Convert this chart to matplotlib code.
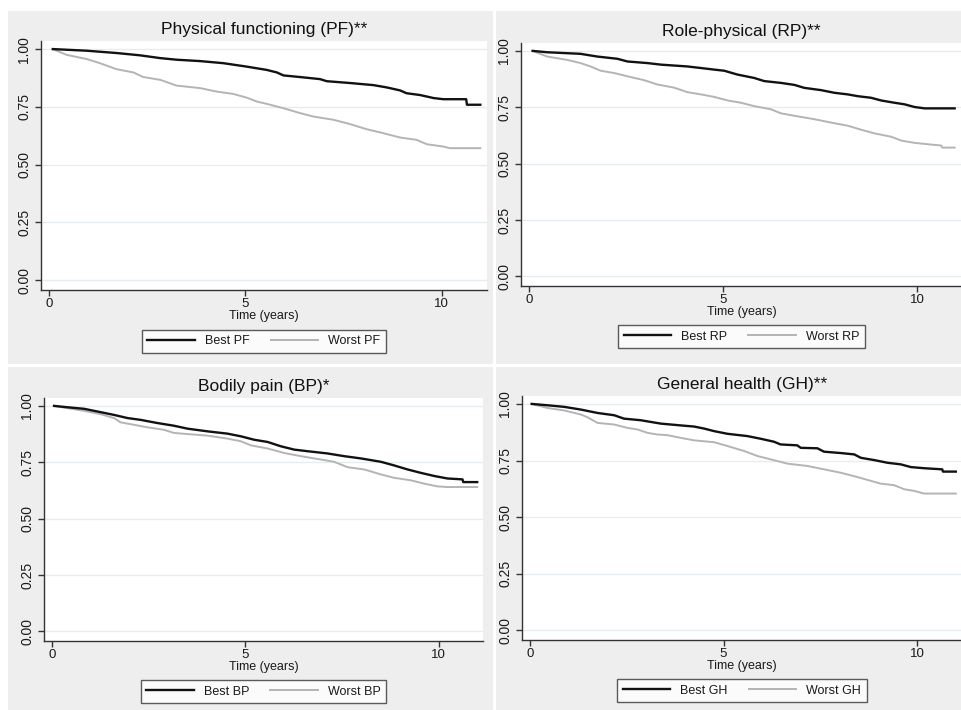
import matplotlib.pyplot as plt
from matplotlib.patches import Rectangle

plt.rcParams['font.family'] = ['Liberation Sans', 'DejaVu Sans']

# Kaplan-Meier survival by SF-36 domain (best vs worst score group)
titles = ['Physical functioning (PF)**', 'Role-physical (RP)**',
          'Bodily pain (BP)*', 'General health (GH)**']
codes = ['PF', 'RP', 'BP', 'GH']

pf_best_t = [0.1, 0.96, 1.72, 2.32, 2.83, 3.25, 3.85, 4.44, 5.0, 5.54, 5.8, 5.97,
             6.39, 6.9, 7.07, 7.67, 8.26, 8.6, 8.94, 9.1, 9.45, 9.79, 10.04, 10.62, 10.64, 10.98]
pf_best_s = [1.0, 0.993, 0.983, 0.973, 0.961, 0.954, 0.948, 0.939, 0.925, 0.910, 0.899, 0.886,
             0.879, 0.870, 0.861, 0.853, 0.844, 0.834, 0.821, 0.809, 0.801, 0.788, 0.783, 0.783,
             0.759, 0.759]
pf_worst_t = [0.1, 0.45, 0.96, 1.3, 1.72, 2.15, 2.4, 2.83, 3.25, 3.85, 4.27, 4.69, 5.03,
              5.29, 5.54, 5.97, 6.39, 6.73, 7.24, 7.67, 8.09, 8.51, 8.94, 9.36, 9.62, 10.04,
              10.2, 10.98]
pf_worst_s = [1.0, 0.975, 0.957, 0.939, 0.913, 0.899, 0.879, 0.867, 0.842, 0.831, 0.816, 0.806,
              0.790, 0.773, 0.763, 0.744, 0.723, 0.708, 0.694, 0.675, 0.653, 0.636, 0.617, 0.607,
              0.588, 0.578, 0.571, 0.571]

rp_best_t = [0.1, 0.47, 1.33, 1.76, 2.28, 2.54, 3.05, 3.4, 4.08, 4.43, 4.77, 5.03, 5.37,
             5.8, 6.06, 6.49, 6.84, 7.09, 7.52, 7.87, 8.21, 8.47, 8.81, 9.07, 9.41, 9.67,
             9.93, 10.19, 10.96]
rp_best_s = [1.0, 0.994, 0.987, 0.975, 0.965, 0.953, 0.946, 0.939, 0.931, 0.924, 0.917, 0.912,
             0.895, 0.880, 0.866, 0.858, 0.849, 0.836, 0.826, 0.814, 0.807, 0.799, 0.792, 0.780,
             0.770, 0.763, 0.751, 0.745, 0.745]
rp_worst_t = [0.1, 0.47, 0.99, 1.33, 1.59, 1.85, 2.19, 2.62, 2.97, 3.31, 3.74, 4.08, 4.43,
              4.77, 5.12, 5.46, 5.8, 6.23, 6.49, 6.84, 7.35, 7.78, 8.21, 8.56, 8.9, 9.33,
              9.59, 9.93, 10.27, 10.62, 10.64, 10.96]
rp_worst_s = [1.0, 0.975, 0.960, 0.946, 0.931, 0.912, 0.902, 0.884, 0.870, 0.851, 0.837, 0.817,
              0.807, 0.796, 0.780, 0.770, 0.755, 0.741, 0.723, 0.712, 0.697, 0.682, 0.668, 0.650,
              0.634, 0.619, 0.602, 0.592, 0.586, 0.580, 0.571, 0.571]

bp_best_t = [0.06, 0.4, 0.84, 1.27, 1.61, 1.96, 2.3, 2.73, 3.16, 3.51, 4.03, 4.54, 4.89,
             5.23, 5.58, 5.92, 6.27, 6.61, 7.13, 7.56, 7.99, 8.51, 8.85, 9.2, 9.54, 9.89,
             10.23, 10.62, 10.64, 11.0]
bp_best_s = [1.0, 0.994, 0.987, 0.972, 0.960, 0.946, 0.938, 0.924, 0.912, 0.899, 0.887, 0.877,
             0.865, 0.850, 0.840, 0.821, 0.806, 0.799, 0.789, 0.777, 0.767, 0.752, 0.736, 0.718,
             0.703, 0.689, 0.678, 0.674, 0.662, 0.662]
bp_worst_t = [0.06, 0.4, 0.84, 1.27, 1.61, 1.78, 2.13, 2.47, 2.9, 3.16, 3.51, 4.03, 4.54,
              4.89, 5.15, 5.58, 6.01, 6.44, 6.96, 7.3, 7.65, 8.08, 8.51, 8.85, 9.28, 9.63,
              9.97, 10.23, 11.0]
bp_worst_s = [1.0, 0.990, 0.978, 0.963, 0.946, 0.927, 0.916, 0.905, 0.894, 0.880, 0.875, 0.868,
              0.855, 0.843, 0.825, 0.811, 0.791, 0.777, 0.762, 0.752, 0.728, 0.718, 0.696, 0.681,
              0.670, 0.655, 0.643, 0.640, 0.640]

gh_best_t = [0.05, 0.46, 0.89, 1.32, 1.75, 2.18, 2.43, 2.86, 3.38, 3.9, 4.24, 4.5, 4.75,
             5.1, 5.61, 5.96, 6.3, 6.47, 6.9, 6.99, 7.42, 7.59, 8.02, 8.37, 8.54, 8.88, 9.23,
             9.57, 9.83, 10.17, 10.64, 10.66, 10.99]
gh_best_s = [1.0, 0.994, 0.987, 0.975, 0.960, 0.950, 0.935, 0.928, 0.913, 0.905, 0.900, 0.891,
             0.880, 0.868, 0.858, 0.846, 0.833, 0.821, 0.817, 0.806, 0.804, 0.789, 0.783, 0.777,
             0.762, 0.752, 0.740, 0.733, 0.721, 0.716, 0.711, 0.701, 0.701]
gh_worst_t = [0.05, 0.46, 0.89, 1.32, 1.49, 1.75, 2.18, 2.52, 2.78, 3.04, 3.29, 3.55, 3.9,
              4.24, 4.75, 5.1, 5.53, 5.87, 6.22, 6.65, 7.16, 7.59, 8.02, 8.45, 8.8, 9.05, 9.4,
              9.66, 9.91, 10.17, 10.99]
gh_worst_s = [1.0, 0.982, 0.971, 0.953, 0.941, 0.916, 0.909, 0.894, 0.887, 0.872, 0.865, 0.862,
              0.850, 0.839, 0.831, 0.814, 0.792, 0.770, 0.755, 0.736, 0.726, 0.711, 0.696, 0.677,
              0.660, 0.648, 0.641, 0.623, 0.616, 0.604, 0.604]

best = [(pf_best_t, pf_best_s), (rp_best_t, rp_best_s),
        (bp_best_t, bp_best_s), (gh_best_t, gh_best_s)]
worst = [(pf_worst_t, pf_worst_s), (rp_worst_t, rp_worst_s),
         (bp_worst_t, bp_worst_s), (gh_worst_t, gh_worst_s)]

W, H = 962, 710
fig = plt.figure(figsize=(W / 100, H / 100), dpi=100)
fig.patch.set_facecolor('white')

def fx(px):
    return px / W

def fy(py):
    return 1 - py / H

# grey panel backgrounds (left, top, right, bottom in pixels)
panels = [(8, 11, 493, 364), (496, 11, 962, 364),
          (8, 367, 493, 710), (496, 367, 962, 710)]
for l, t, r, b in panels:
    fig.patches.append(Rectangle((fx(l), fy(b)), fx(r - l), (b - t) / H,
                                 transform=fig.transFigure, facecolor='#eeeeee',
                                 edgecolor='none', zorder=-5))

# plot regions (left, top, right, bottom in pixels)
boxes = [(41, 41, 487, 290), (521, 43, 962, 286),
         (44, 398, 483, 641), (522, 396, 962, 640)]

for i, (l, t, r, b) in enumerate(boxes):
    ax = fig.add_axes([fx(l), fy(b), fx(r - l), (b - t) / H])
    ax.set_facecolor('white')
    for y in [0, 0.25, 0.5, 0.75, 1.0]:
        ax.axhline(y, color='#e4eef0', lw=1.0, zorder=1)
    bt, bs = best[i]
    wt, ws = worst[i]
    ax.plot(bt, bs, color='#111111', lw=1.7, zorder=3, label='Best ' + codes[i])
    ax.plot(wt, ws, color='#b4b4b4', lw=1.4, zorder=2, label='Worst ' + codes[i])
    ax.set_xlim(-0.2, 11.15)
    ax.set_ylim(-0.043, 1.035)
    ax.set_xticks([0, 5, 10])
    ax.set_yticks([0, 0.25, 0.5, 0.75, 1.0])
    ax.set_yticklabels(['0.00', '0.25', '0.50', '0.75', '1.00'],
                       rotation=90, va='center')
    ax.tick_params(axis='both', length=4, width=1, color='#333333',
                   labelcolor='#1a1a1a')
    ax.tick_params(axis='y', labelsize=10, pad=3)
    ax.tick_params(axis='x', labelsize=9.5, pad=1.5)
    for s in ['top', 'right']:
        ax.spines[s].set_visible(False)
    for s in ['left', 'bottom']:
        ax.spines[s].set_color('#333333')
        ax.spines[s].set_linewidth(1.0)
    ax.set_xlabel('Time (years)', fontsize=9, color='#1a1a1a', labelpad=0.5)
    ax.set_title(titles[i], fontsize=12.5, color='#111111', pad=5)
    leg = ax.legend(loc='upper center', bbox_to_anchor=(0.5, -0.135), ncol=2,
                    frameon=True, fancybox=False, fontsize=9,
                    handlelength=3.8, handletextpad=0.8, columnspacing=1.7,
                    borderpad=0.45)
    leg.get_frame().set_edgecolor('#333333')
    leg.get_frame().set_linewidth(1.0)
    for txt in leg.get_texts():
        txt.set_color('#1a1a1a')

fig.savefig('out.png', dpi=100)
